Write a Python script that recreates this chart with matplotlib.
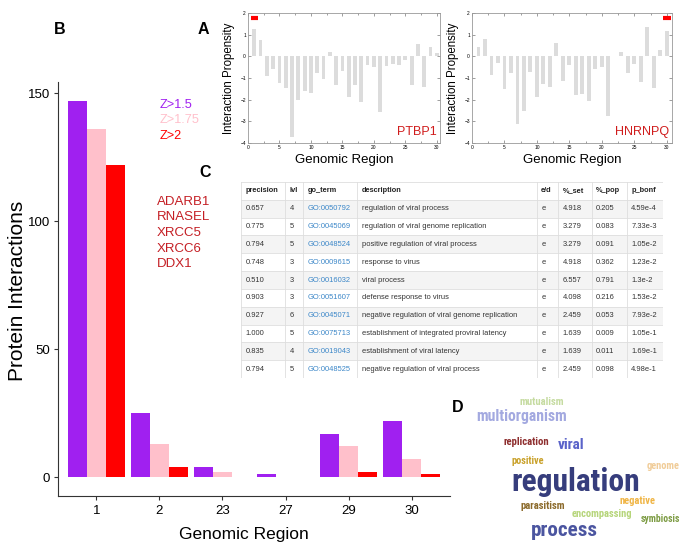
import numpy as np
import matplotlib.pyplot as plt
from matplotlib import font_manager as fm
from matplotlib.ticker import MultipleLocator

W, H = 682, 543
plt.rcParams['font.family'] = ['Liberation Sans', 'DejaVu Sans']

# panel B: interacciones por region
regiones = ['1', '2', '23', '27', '29', '30']
z15 = [147, 25, 4, 1, 17, 22]
z175 = [136, 13, 2, 0, 12, 7]
z2 = [122, 4, 0, 0, 2, 1]
umbrales = ['Z>1.5', 'Z>1.75', 'Z>2']
colores_z = ['#a020f0', '#ffc0cb', '#ff0000']
genes_b = ['ADARB1', 'RNASEL', 'XRCC5', 'XRCC6', 'DDX1']

# panel A: propension de interaccion por region genomica
ptbp1 = [1.25, 0.74, -0.89, -0.57, -1.25, -1.45, -3.7, -2.0, -1.6, -1.68,
         -0.76, -1.03, 0.18, -1.31, -0.66, -1.86, -1.34, -2.13, -0.4, -0.48,
         -2.58, -0.45, -0.36, -0.39, -0.19, -1.32, 0.58, -1.43, 0.42, 0.16]
hnrnpq = [0.42, 0.78, -0.85, -0.33, -1.49, -0.79, -3.12, -2.5, -0.73, -1.88,
          -1.26, -1.41, 0.6, -1.13, -0.42, -1.78, -1.75, -2.06, -0.57, -0.51,
          -2.76, 0.03, 0.2, -0.78, -0.36, -1.19, 1.35, -1.44, 0.29, 1.19]
region_ptbp1 = 1
region_hnrnpq = 30

# panel C: tabla de enriquecimiento GO
encabezado = ['precision', 'lvl', 'go_term', 'description', 'e/d', '%_set', '%_pop', 'p_bonf']
precision = ['0.657', '0.775', '0.794', '0.748', '0.510', '0.903', '0.927', '1.000', '0.835', '0.794']
lvl = ['4', '5', '5', '3', '3', '3', '6', '5', '4', '5']
go_term = ['GO:0050792', 'GO:0045069', 'GO:0048524', 'GO:0009615', 'GO:0016032',
           'GO:0051607', 'GO:0045071', 'GO:0075713', 'GO:0019043', 'GO:0048525']
descripcion = ['regulation of viral process', 'regulation of viral genome replication',
               'positive regulation of viral process', 'response to virus', 'viral process',
               'defense response to virus', 'negative regulation of viral genome replication',
               'establishment of integrated proviral latency', 'establishment of viral latency',
               'negative regulation of viral process']
ed = ['e'] * 10
pct_set = ['4.918', '3.279', '3.279', '4.918', '6.557', '4.098', '2.459', '1.639', '1.639', '2.459']
pct_pop = ['0.205', '0.083', '0.091', '0.362', '0.791', '0.216', '0.053', '0.009', '0.011', '0.098']
p_bonf = ['4.59e-4', '7.33e-3', '1.05e-2', '1.23e-2', '1.3e-2', '1.53e-2', '7.93e-2', '1.05e-1', '1.69e-1', '4.98e-1']

# panel D: nube de palabras
palabras = ['mutualism', 'multiorganism', 'replication', 'viral', 'positive', 'genome',
            'regulation', 'negative', 'parasitism', 'encompassing', 'symbiosis', 'process']
colores_pal = ['#c5dba0', '#a3a9e0', '#8e2f2f', '#5a63c9', '#c9a12a', '#f0cc98',
               '#363d7c', '#f0b545', '#8c6b2c', '#b6d57a', '#7d9c44', '#4b55a0']


def caja(x0, y0, x1, y1):
    return [x0 / W, 1 - y1 / H, (x1 - x0) / W, (y1 - y0) / H]


fig = plt.figure(figsize=(W / 100, H / 100), dpi=100)

# ---------- panel B ----------
axb = fig.add_axes(caja(58, 82, 450, 496))
x = np.arange(len(regiones))
for i, serie in enumerate([z15, z175, z2]):
    axb.bar(x + (i - 1) * 0.3, serie, width=0.3, color=colores_z[i], linewidth=0)
axb.set_xlim(-0.61, 5.61)
axb.set_ylim(-7.4, 154.3)
axb.set_xticks(x)
axb.set_xticklabels(regiones, fontsize=9.5)
axb.set_yticks([0, 50, 100, 150])
axb.tick_params(labelsize=9.5, color='#333333', length=3)
axb.tick_params(axis='y', pad=2.5)
for s in ['top', 'right']:
    axb.spines[s].set_visible(False)
for s in ['left', 'bottom']:
    axb.spines[s].set_color('#333333')
    axb.spines[s].set_linewidth(0.8)
axb.set_ylabel('Protein Interactions', fontsize=15)
axb.yaxis.set_label_coords(-0.08, 0.495)
axb.set_xlabel('Genomic Region', fontsize=12.5, labelpad=6)
axb.xaxis.set_label_coords(0.475, -0.075)

for i, t in enumerate(umbrales):
    fig.text(160 / W, 1 - (105 + i * 15.5) / H, t, color=colores_z[i], fontsize=9.2, va='center')
for i, g in enumerate(genes_b):
    fig.text(157 / W, 1 - (202 + i * 15.5) / H, g, color='#c41e24', fontsize=9.5, va='center')

# ---------- panel A ----------
def panel_a(rect, valores, nombre, marca, xmax):
    ax = fig.add_axes(rect)
    xs = np.arange(1, len(valores) + 1)
    ax.bar(xs, valores, width=0.6, color='#dcdcdc', linewidth=0)
    ax.plot([marca - 0.6, marca + 0.6], [1.75, 1.75], color='red', lw=3, solid_capstyle='butt')
    ax.set_xlim(0, xmax)
    ax.set_ylim(-4, 2)
    ax.xaxis.set_major_locator(MultipleLocator(5))
    ax.xaxis.set_minor_locator(MultipleLocator(2.5))
    ax.yaxis.set_major_locator(MultipleLocator(1))
    ax.tick_params(which='both', direction='in', top=True, right=True,
                   labelsize=3.5, color='#777777', length=2, width=0.5, pad=1.5)
    ax.tick_params(which='minor', length=1.2)
    for s in ax.spines.values():
        s.set_color('#999999')
        s.set_linewidth(0.6)
    ax.set_ylabel('Interaction Propensity', fontsize=8.3, labelpad=4)
    ax.set_xlabel('Genomic Region', fontsize=9.5, labelpad=3)
    ax.text(0.985, 0.035, nombre, transform=ax.transAxes, ha='right', va='bottom',
            color='#d01c1c', fontsize=9)
    return ax


panel_a(caja(248, 13, 440, 143), ptbp1, 'PTBP1', region_ptbp1, 30.5)
panel_a(caja(472, 13, 672, 143), hnrnpq, 'HNRNPQ', region_hnrnpq, 30.8)

# ---------- panel C ----------
bordes = [241, 285.3, 303.3, 357.3, 536.7, 558.3, 591.7, 626.7, 663.3]
axc = fig.add_axes(caja(241, 182, 663.3, 378))
axc.set_xlim(bordes[0], bordes[-1])
n = len(precision)
axc.set_ylim(n + 1, 0)
axc.axis('off')
columnas = [precision, lvl, go_term, descripcion, ed, pct_set, pct_pop, p_bonf]
for r in range(n + 1):
    fondo = '#f4f4f4' if r % 2 == 1 else 'white'
    axc.add_patch(plt.Rectangle((bordes[0], r), bordes[-1] - bordes[0], 1,
                                facecolor=fondo, edgecolor='none'))
    axc.plot([bordes[0], bordes[-1]], [r, r], color='#dedede', lw=0.6)
axc.plot([bordes[0], bordes[-1]], [n + 1, n + 1], color='#dedede', lw=0.6)
for b in bordes:
    axc.plot([b, b], [0, n + 1], color='#dedede', lw=0.6)
for c, col in enumerate(columnas):
    axc.text(bordes[c] + 4.5, 0.5, encabezado[c], fontsize=5.3, fontweight='bold',
             va='center', ha='left', color='#222222')
    for r, v in enumerate(col):
        color = '#3a86c8' if c == 2 else '#333333'
        axc.text(bordes[c] + 4.5, r + 1.5, v, fontsize=5.4, va='center', ha='left', color=color)

# ---------- panel D ----------
nombres = {f.name for f in fm.fontManager.ttflist}
fuente_nube = 'DejaVu Sans'
for cand in ['Liberation Sans Narrow', 'Roboto Condensed', 'Open Sans Condensed', 'DejaVu Sans Condensed']:
    if cand in nombres:
        fuente_nube = cand
        break
axd = fig.add_axes(caja(470, 390, 682, 543))
axd.set_xlim(470, 682)
axd.set_ylim(543, 390)
axd.axis('off')
# centro (x, y) y ancho en pixeles de cada palabra
pos_nube = [(541.7, 402.3), (521.7, 416.7), (526.7, 442.3), (570.7, 445), (527.3, 460.7),
            (662.7, 466), (576, 481.7), (637.3, 501), (542.7, 505.7), (601.7, 514.3),
            (660.5, 519), (564, 530.7)]
ancho_nube = [44.7, 91, 46, 27, 33, 33, 128, 36, 45, 61, 40, 67]
fig.canvas.draw()
rend = fig.canvas.get_renderer()
for p, c, (px, py), w in zip(palabras, colores_pal, pos_nube, ancho_nube):
    t = axd.text(px, py, p, color=c, fontsize=10, fontweight='bold', family=fuente_nube,
                 fontstretch='condensed', ha='center', va='center', clip_on=False)
    ancho = t.get_window_extent(rend).width
    t.set_fontsize(10 * w / ancho)

# letras de panel
for letra, (px, py) in zip('BACD', [(60, 30), (203, 30), (205, 172), (458, 408)]):
    fig.text(px / W, 1 - py / H, letra, fontsize=11.5, fontweight='bold', ha='center', va='center')

fig.savefig('out.png', dpi=100)
